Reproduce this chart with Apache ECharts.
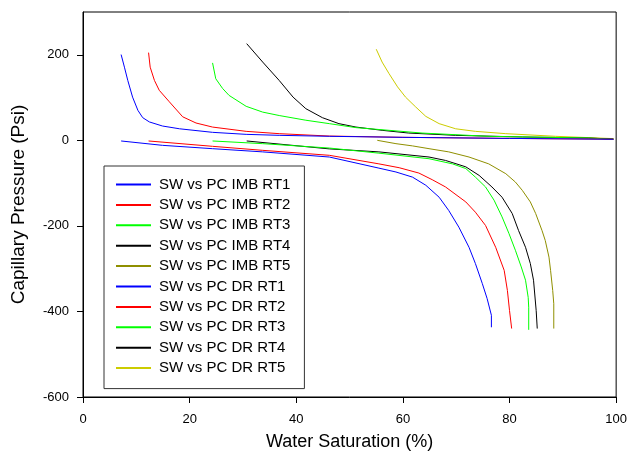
<!DOCTYPE html>
<html><head><meta charset="utf-8">
<script src="https://cdn.jsdelivr.net/npm/echarts@6/dist/echarts.min.js"></script>
<style>html,body{margin:0;padding:0;background:#fff}#c{width:630px;height:457px}</style>
</head><body><div id="c"></div>
<script>
// ---- data ----
const xTicks = [0, 20, 40, 60, 80, 100];
const yTicks = [-600, -400, -200, 0, 200];

const seriesNames = [
  'SW vs PC IMB RT1', 'SW vs PC IMB RT2', 'SW vs PC IMB RT3', 'SW vs PC IMB RT4', 'SW vs PC IMB RT5',
  'SW vs PC DR RT1', 'SW vs PC DR RT2', 'SW vs PC DR RT3', 'SW vs PC DR RT4', 'SW vs PC DR RT5'
];
const seriesColors = ['#0000ff', '#ff0000', '#00ff00', '#000000', '#8f8f00',
                      '#0000ff', '#ff0000', '#00ff00', '#000000', '#cccc00'];

// Imbibition (negative capillary pressure)
const imbRT1 = [[7.15,-1.5],[14.9,-11.7],[24.3,-19.5],[33.7,-27],[46.2,-39],[55.5,-65],[58.7,-74],[61.8,-86],[64.3,-105],[66.8,-133],[68.6,-164],[70.5,-203],[72.4,-250],[73.6,-288],[74.9,-335],[75.8,-370],[76.6,-409],[76.6,-437]];
const imbRT2 = [[12.3,-1.5],[24.3,-14],[33.7,-23.4],[46.2,-35],[55.5,-55],[59.3,-64],[63,-76.5],[65.5,-92],[68,-109],[71.8,-144],[73.6,-168],[75.5,-199],[77.4,-250],[79,-304],[79.6,-351],[80,-398],[80.4,-440]];
const imbRT3 = [[24.3,-1.5],[33.7,-7.8],[46.2,-18],[55.5,-30],[64.9,-43],[69.3,-55],[71.8,-66],[73.6,-86],[75.5,-109],[77.1,-140],[78.6,-179],[79.9,-218],[81.1,-257],[82.2,-296],[83,-327],[83.5,-367],[83.6,-390],[83.6,-443]];
const imbRT4 = [[30.7,-1.5],[46.2,-20],[55.5,-27],[64.9,-39],[68,-47],[71.8,-62],[74.3,-82],[76.7,-109],[78.6,-133],[80.5,-171],[81.7,-211],[83,-250],[83.9,-288],[84.5,-327],[85,-398],[85.2,-440]];
const imbRT5 = [[55.2,0],[58.7,-7.8],[61.8,-13],[64.9,-19.5],[68.6,-27],[72.4,-39],[76.1,-55],[79.3,-78],[81.1,-97.5],[82.4,-117],[83.9,-144],[84.9,-171],[86.1,-211],[86.7,-234],[87.4,-273],[87.7,-304],[88.1,-351],[88.3,-382],[88.3,-440]];

// Drainage (positive capillary pressure)
const drRT1 = [[7.15,200.5],[7.77,171],[8.4,140],[9.3,101],[10.3,70],[11.2,53],[12.45,43],[14.9,33.5],[18.1,27],[24.3,18.7],[30.6,14],[36.8,11.7],[46.2,9.4],[60,7],[80,4.5],[99.5,2.5]];
const drRT2 = [[12.3,205],[12.6,171],[13.4,140],[14.3,117],[16.2,90],[18.7,55],[21.2,40.5],[24.3,31],[30.6,21],[36.8,15.6],[46.2,10],[60,7],[80,4.5],[99.5,2.5]];
const drRT3 = [[24.3,181],[24.9,144],[26.2,121],[27.4,105],[30.6,79.5],[33.7,66],[36.8,58],[41.8,47],[46.2,39],[51.2,29.7],[57.4,23.4],[63.6,17],[76,9.4],[94.8,5.4],[99.5,2.3]];
const drRT4 = [[30.7,226],[33.7,183],[36.8,140],[39.4,101],[41.8,74],[44.9,53],[48,39],[51.2,31],[56.1,23.4],[61.1,17],[69.9,11.7],[82.4,7.8],[94.8,5.4],[99.5,3]];
const drRT5 = [[55,213],[56.1,183],[57.4,156],[59,125],[60.5,101],[62.4,78],[64.3,56],[66.8,39],[69.9,27],[73.6,21],[79.3,15.6],[88.6,9.4],[99.5,4]];

const allData = [imbRT1, imbRT2, imbRT3, imbRT4, imbRT5, drRT1, drRT2, drRT3, drRT4, drRT5];

// ---- chart ----
const chart = echarts.init(document.getElementById('c'), null, {renderer: 'canvas'});
const FONT = 'Liberation Sans, Arial, sans-serif';

const series = allData.map((d, i) => ({
  name: seriesNames[i],
  type: 'line',
  data: d,
  symbol: 'none',
  smooth: false,
  lineStyle: {width: 1, color: seriesColors[i]},
  itemStyle: {color: seriesColors[i]},
  z: 10 - i
}));

chart.setOption({
  animation: false,
  backgroundColor: '#fff',
  grid: {left: 83, right: 12, top: 12, bottom: 60, show: true, borderColor: '#000', borderWidth: 1, containLabel: false},
  xAxis: {
    type: 'value', min: xTicks[0], max: xTicks[xTicks.length - 1], interval: 20,
    name: 'Water Saturation (%)', nameLocation: 'middle', nameGap: 36,
    nameTextStyle: {fontSize: 18, color: '#000', fontFamily: FONT},
    axisLine: {show: true, onZero: false, lineStyle: {color: '#000', width: 1}},
    axisTick: {show: true, inside: false, length: 6, lineStyle: {color: '#000'}},
    axisLabel: {fontSize: 13, color: '#000', margin: 16, fontFamily: FONT},
    splitLine: {show: false}
  },
  yAxis: {
    type: 'value', min: -600, max: 300, interval: 200,
    name: 'Capillary Pressure (Psi)', nameLocation: 'middle', nameGap: 55,
    nameTextStyle: {fontSize: 19, color: '#000', fontFamily: FONT},
    axisLine: {show: true, onZero: false, lineStyle: {color: '#000', width: 1}},
    axisTick: {show: true, inside: false, length: 6, lineStyle: {color: '#000'}, customValues: yTicks},
    axisLabel: {fontSize: 13, color: '#000', margin: 14, fontFamily: FONT, customValues: yTicks},
    splitLine: {show: false}
  },
  legend: {
    orient: 'vertical', left: 104, top: 166,
    data: seriesNames,
    itemWidth: 35, itemHeight: 14, itemGap: 5.4,
    padding: [11, 14, 13, 11],
    borderColor: '#333', borderWidth: 1, backgroundColor: '#fff',
    itemStyle: {opacity: 0},
    textStyle: {fontSize: 15, color: '#000', fontFamily: FONT, padding: [0, 0, 0, 3]}
  },
  series: series
});
</script>
</body></html>
